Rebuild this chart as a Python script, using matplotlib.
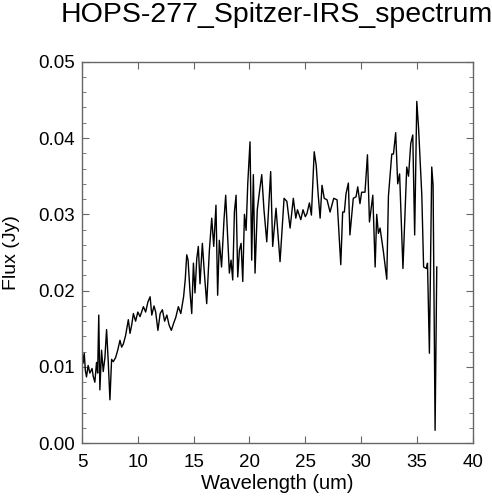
import matplotlib
matplotlib.use('Agg')
import matplotlib.pyplot as plt
from matplotlib.ticker import MultipleLocator

# spectrum
wavelength = [
    5.00, 5.10, 5.20, 5.30, 5.40, 5.55, 5.70, 5.90, 6.00, 6.15,
    6.30, 6.40, 6.50, 6.60, 6.75, 6.90, 7.05, 7.20, 7.35, 7.50,
    7.65, 7.80, 8.00, 8.20, 8.40, 8.55, 8.70, 8.90, 9.15, 9.30,
    9.45, 9.60, 9.80, 10.00, 10.20, 10.50, 10.70, 10.90, 11.10, 11.25,
    11.45, 11.60, 11.80, 12.00, 12.20, 12.40, 12.60, 12.80, 13.00, 13.20,
    13.40, 13.63, 13.85, 14.10, 14.25, 14.38, 14.50, 14.68, 14.83, 14.98,
    15.12, 15.28, 15.42, 15.57, 15.78, 15.96, 16.17, 16.41, 16.62, 16.80,
    17.00, 17.15, 17.30, 17.50, 17.72, 17.87, 18.05, 18.20, 18.35, 18.50,
    18.65, 18.80, 18.95, 19.10, 19.25, 19.40, 19.55, 19.70, 19.85, 20.05,
    20.20, 20.35, 20.50, 20.70, 20.90, 21.10, 21.30, 21.55, 21.90, 22.08,
    22.38, 22.74, 23.10, 23.35, 23.64, 23.93, 24.15, 24.30, 24.60, 24.80,
    25.00, 25.15, 25.37, 25.55, 25.80, 25.98, 26.15, 26.33, 26.50, 26.70,
    26.95, 27.22, 27.55, 27.85, 28.18, 28.35, 28.50, 28.65, 28.86, 29.00,
    29.30, 29.55, 29.70, 29.90, 30.05, 30.35, 30.57, 30.75, 31.05, 31.26,
    31.40, 31.55, 31.70, 32.00, 32.30, 32.45, 32.75, 32.90, 33.10, 33.28,
    33.45, 33.75, 34.09, 34.25, 34.45, 34.63, 34.80, 34.99, 35.15, 35.44,
    35.60, 35.85, 35.95, 36.12, 36.33, 36.45, 36.63, 36.78,
]
flux = [
    0.0122, 0.0105, 0.0118, 0.0095, 0.0087, 0.0102, 0.0092, 0.0098, 0.0088, 0.0080,
    0.0106, 0.0092, 0.0168, 0.0070, 0.0122, 0.0094, 0.0112, 0.0149, 0.0107, 0.0057,
    0.0110, 0.0107, 0.0112, 0.0122, 0.0135, 0.0126, 0.0130, 0.0141, 0.0162, 0.0144,
    0.0155, 0.0170, 0.0160, 0.0172, 0.0166, 0.0179, 0.0172, 0.0185, 0.0192, 0.0168,
    0.0180, 0.0172, 0.0148, 0.0170, 0.0175, 0.0160, 0.0168, 0.0155, 0.0148, 0.0157,
    0.0165, 0.0179, 0.0170, 0.0192, 0.0215, 0.0247, 0.0240, 0.0197, 0.0170, 0.0236,
    0.0197, 0.0242, 0.0258, 0.0209, 0.0262, 0.0223, 0.0183, 0.0253, 0.0295, 0.0258,
    0.0312, 0.0194, 0.0266, 0.0231, 0.0293, 0.0325, 0.0270, 0.0223, 0.0240, 0.0214,
    0.0303, 0.0325, 0.0218, 0.0253, 0.0262, 0.0212, 0.0300, 0.0279, 0.0341, 0.0395,
    0.0240, 0.0352, 0.0223, 0.0306, 0.0330, 0.0352, 0.0306, 0.0264, 0.0356, 0.0258,
    0.0308, 0.0238, 0.0321, 0.0317, 0.0282, 0.0321, 0.0295, 0.0306, 0.0293, 0.0306,
    0.0297, 0.0301, 0.0315, 0.0299, 0.0382, 0.0364, 0.0327, 0.0295, 0.0338, 0.0321,
    0.0319, 0.0303, 0.0321, 0.0319, 0.0234, 0.0303, 0.0303, 0.0327, 0.0341, 0.0273,
    0.0321, 0.0323, 0.0336, 0.0314, 0.0329, 0.0329, 0.0378, 0.0290, 0.0325, 0.0231,
    0.0300, 0.0275, 0.0282, 0.0251, 0.0215, 0.0324, 0.0379, 0.0379, 0.0407, 0.0340,
    0.0353, 0.0229, 0.0362, 0.0350, 0.0393, 0.0404, 0.0273, 0.0448, 0.0413, 0.0325,
    0.0231, 0.0229, 0.0236, 0.0118, 0.0362, 0.0338, 0.0017, 0.0231,
]

plt.rcParams['font.family'] = ['Liberation Sans', 'DejaVu Sans']

fig = plt.figure(figsize=(4.92, 5.0), dpi=100)
ax = fig.add_axes([0.1667, 0.1134, 0.7941, 0.7632])

ax.plot(wavelength, flux, color='black', linewidth=1.0)

ax.set_xlim(5, 40)
ax.set_ylim(0, 0.05)
ax.xaxis.set_major_locator(MultipleLocator(5))
ax.yaxis.set_major_locator(MultipleLocator(0.01))
ax.yaxis.set_minor_locator(MultipleLocator(0.002))
ax.yaxis.set_major_formatter(plt.FormatStrFormatter('%.2f'))

spine_col = '#666666'
for s in ax.spines.values():
    s.set_color(spine_col)
    s.set_linewidth(1.0)
ax.tick_params(which='both', direction='in', top=True, right=True,
               color=spine_col, labelsize=13.5)
ax.tick_params(which='major', length=5)
ax.tick_params(which='minor', length=3)
ax.tick_params(axis='x', pad=8)
ax.tick_params(axis='y', pad=5)

ax.set_xlabel('Wavelength (um)', fontsize=14.5)
ax.xaxis.set_label_coords(0.5, -0.081)
ax.set_ylabel('Flux (Jy)', fontsize=14)
ax.yaxis.set_label_coords(-0.16, 0.5)
fig.text(0.562, 0.955, 'HOPS-277_Spitzer-IRS_spectrum', fontsize=20.5,
         ha='center', va='baseline')

fig.savefig('out.png', dpi=100)
